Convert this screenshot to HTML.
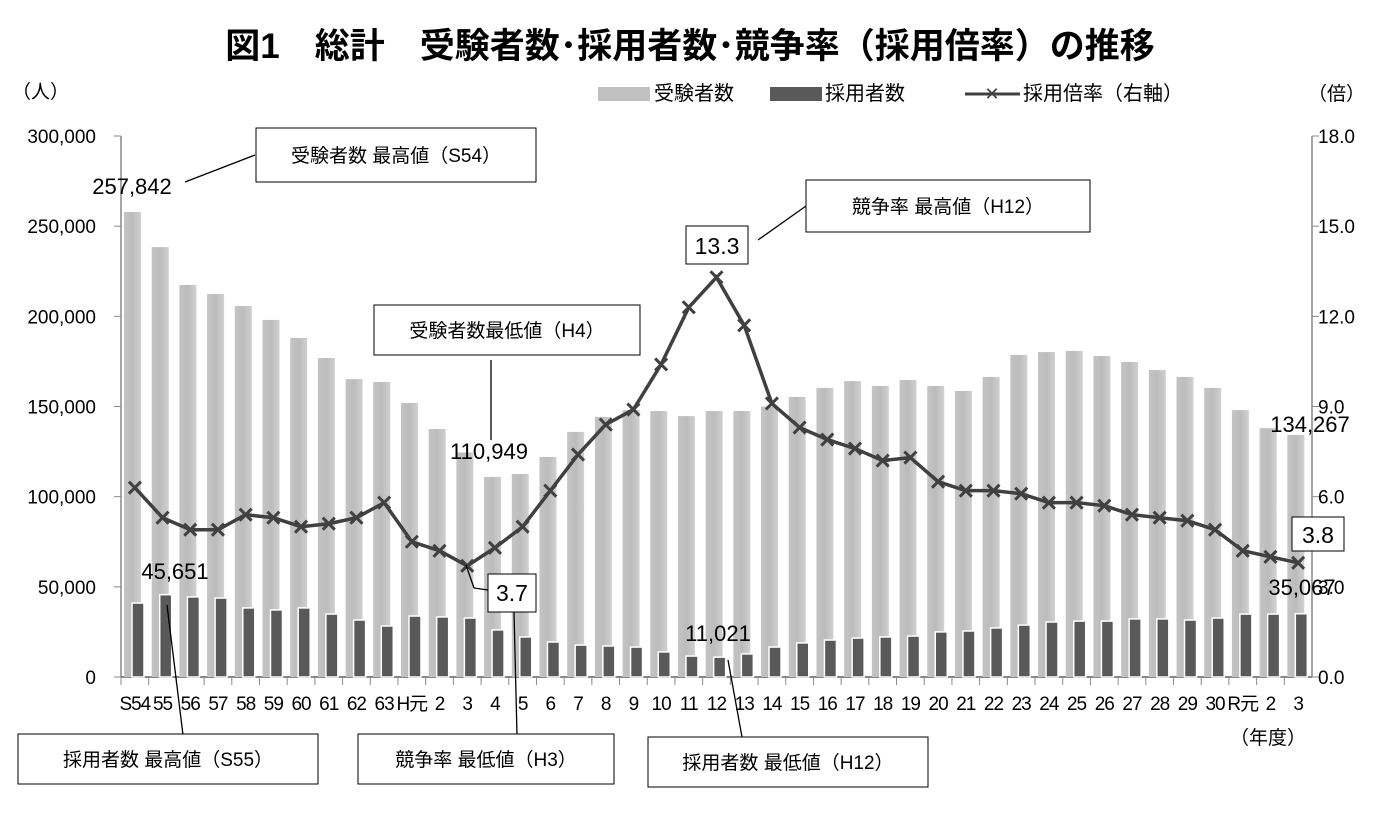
<!DOCTYPE html>
<html><head><meta charset="utf-8"><style>
body{margin:0;background:#fff;}
svg{display:block;font-family:"Liberation Sans","Noto Sans CJK JP",sans-serif;}
</style></head><body>
<svg id="chart" width="1376" height="816">
<defs>
<linearGradient id="gg" x1="0" x2="1" y1="0" y2="0">
<stop offset="0" stop-color="#c4c4c4"/><stop offset="0.5" stop-color="#bcbcbc"/><stop offset="1" stop-color="#d0d0d0"/>
</linearGradient>
</defs>
<text x="690" y="58" font-size="35" font-weight="bold" text-anchor="middle">図1　総計　受験者数･採用者数･競争率（採用倍率）の推移</text>
<text x="12" y="98" font-size="19">（人）</text>
<text x="1308" y="100" font-size="19">（倍）</text>
<g>
<rect x="598" y="87" width="52" height="14" fill="#c0c0c0"/>
<text x="654" y="100" font-size="20">受験者数</text>
<rect x="770" y="87" width="52" height="14" fill="#595959"/>
<text x="825" y="100" font-size="20">採用者数</text>
<line x1="965" y1="94" x2="1020" y2="94" stroke="#404040" stroke-width="3"/>
<text x="992" y="100" font-size="18" text-anchor="middle" fill="#404040">✕</text>
<text x="1023" y="100" font-size="20">採用倍率（右軸）</text>
</g>
<g id="axes"></g>
<g id="bars"></g>
<g id="line"></g>
<g id="ann" font-size="19"></g>
</svg>
<script>
const categories=["S54","55","56","57","58","59","60","61","62","63","H元","2","3","4","5","6","7","8","9","10","11","12","13","14","15","16","17","18","19","20","21","22","23","24","25","26","27","28","29","30","R元","2","3"];
const applicants=[257842,238400,217400,212400,205700,198000,188000,176900,165200,163600,152000,137500,124500,110949,112600,122000,135900,144200,148000,147500,144700,147500,147500,150000,155300,160300,164100,161400,164700,161400,158600,166400,178600,180200,180800,178000,174700,170200,166400,160300,148000,138000,134267];
const hired=[41000,45651,44400,43800,38300,37200,38300,34900,31600,28300,33800,33300,32700,26100,22200,19400,17700,17200,16600,13900,11600,11021,12800,16600,18900,20500,21600,22200,22700,25000,25500,27200,28800,30500,31000,31000,32200,32200,31600,32700,34900,34900,35067];
const ratio=[6.3,5.3,4.9,4.9,5.4,5.3,5.0,5.1,5.3,5.8,4.5,4.2,3.7,4.3,5.0,6.2,7.4,8.4,8.9,10.4,12.3,13.3,11.7,9.1,8.3,7.9,7.6,7.2,7.3,6.5,6.2,6.2,6.1,5.8,5.8,5.7,5.4,5.3,5.2,4.9,4.2,4.0,3.8];
const leftTicks=[0,50000,100000,150000,200000,250000,300000];
const rightTicks=[0,3,6,9,12,15,18];
const NS="http://www.w3.org/2000/svg";
const X0=121,X1=1312,Y0=677,Y1=136;
const cw=(X1-X0)/categories.length;
const yL=v=>Y0-(v/300000)*(Y0-Y1);
const yR=v=>Y0-(v/18)*(Y0-Y1);
const xC=i=>X0+cw*i;
function mk(tag,attrs,parent,txt){const e=document.createElementNS(NS,tag);for(const k in attrs)e.setAttribute(k,attrs[k]);if(txt!==undefined)e.textContent=txt;document.getElementById(parent).appendChild(e);return e;}
// axes
let a=mk("line",{x1:X0,y1:Y0,x2:X1,y2:Y0,stroke:"#888","stroke-width":2},"axes");


mk("line",{x1:X0,y1:Y1,x2:X0,y2:Y0,stroke:"#888","stroke-width":1.5},"axes");
mk("line",{x1:X1,y1:Y1,x2:X1,y2:Y0,stroke:"#888","stroke-width":1.5},"axes");
leftTicks.forEach(v=>{mk("line",{x1:X0-7,y1:yL(v),x2:X0,y2:yL(v),stroke:"#888"},"axes");
 const t=mk("text",{x:X0-25,y:yL(v)+7,"font-size":19,"text-anchor":"end"},"axes",v.toLocaleString("en-US"));
 
 });
rightTicks.forEach(v=>{mk("line",{x1:X1,y1:yR(v),x2:X1+7,y2:yR(v),stroke:"#888"},"axes");
 const t=mk("text",{x:X1+6,y:yR(v)+7,"font-size":19},"axes",v.toFixed(1));
 
 });
categories.forEach((c,i)=>{mk("line",{x1:xC(i),y1:Y0,x2:xC(i),y2:Y0+8,stroke:"#888"},"axes");
 const t=mk("text",{x:xC(i)+cw/2,y:Y0+33,"font-size":19,"text-anchor":"middle","letter-spacing":"-1"},"axes",c);
 
 });
mk("text",{x:1268,y:744,"font-size":19,"text-anchor":"middle"},"axes","（年度）");
// bars
applicants.forEach((v,i)=>{const b=mk("rect",{x:xC(i)+3,y:yL(v),width:17,height:Y0-yL(v),fill:"url(#gg)"},"bars");
 
 });
hired.forEach((v,i)=>{const b=mk("rect",{x:xC(i)+11,y:yL(v),width:12,height:Y0-yL(v),fill:"#595959",stroke:"#fff","stroke-width":1.5},"bars");
 
 });
// line
const pts=ratio.map((v,i)=>[xC(i)+cw/2,yR(v)]);
const pl=mk("polyline",{points:pts.map(p=>p.join(",")).join(" "),fill:"none",stroke:"#404040","stroke-width":3.5},"line");


pts.forEach((p,i)=>{const s=6;const g=mk("path",{d:`M${p[0]-s},${p[1]-s}L${p[0]+s},${p[1]+s}M${p[0]-s},${p[1]+s}L${p[0]+s},${p[1]-s}`,stroke:"#404040","stroke-width":3},"line");
 
 });
// annotations
function box(x,y,w,h,txt,name){const r=mk("rect",{x:x,y:y,width:w,height:h,fill:"#fff",stroke:"#000","stroke-width":1},"ann");
 
 
 mk("text",{x:x+w/2,y:y+h/2+7,"text-anchor":"middle"},"ann",txt);}
function ln(x1,y1,x2,y2){mk("line",{x1:x1,y1:y1,x2:x2,y2:y2,stroke:"#000","stroke-width":1.3},"ann");}
function lab(x,y,t,s){mk("text",{x:x,y:y,"font-size":s||22,"text-anchor":"middle"},"ann",t);}
box(256,128,280,54,"受験者数 最高値（S54）","note-applicants-max");ln(185,182,255,155);lab(132,194,"257,842");
box(806,180,284,52,"競争率 最高値（H12）","note-ratio-max");ln(758,240,806,206);box(686,226,62,38,"","value-box-13-3");lab(717,254,"13.3",23);
box(374,305,266,50,"受験者数最低値（H4）","note-applicants-min");ln(491,360,491,440);lab(489,459,"110,949");
box(1292,517,52,34,"","value-box-3-8");lab(1318,543,"3.8",23);lab(1310,432,"134,267");lab(1302,595,"35,067");
box(488,574,48,38,"","value-box-3-7");lab(512,601,"3.7",23);ln(466,565,474,588);ln(474,588,488,590);ln(514,612,517,735);
lab(175,579,"45,651");ln(167,605,183,735);
lab(718,641,"11,021");ln(728,660,742,737);
box(18,734,300,50,"採用者数 最高値（S55）","note-hired-max");
box(358,734,256,50,"競争率 最低値（H3）","note-ratio-min");
box(648,737,280,50,"採用者数 最低値（H12）","note-hired-min");
</script>
</body></html>
